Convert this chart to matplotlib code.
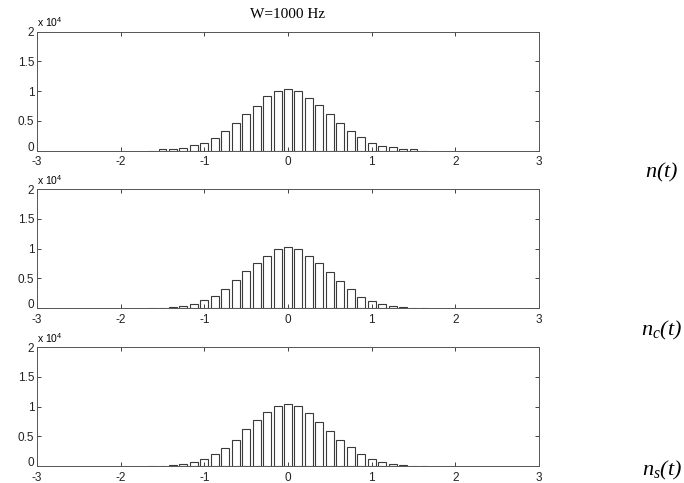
import numpy as np
import matplotlib
matplotlib.use('Agg')
import matplotlib.pyplot as plt
import matplotlib.transforms as mtransforms

plt.rcParams['mathtext.fontset'] = 'custom'
plt.rcParams['mathtext.rm'] = 'Liberation Serif:italic'
plt.rcParams['mathtext.it'] = 'Liberation Serif:italic'
plt.rcParams['mathtext.sf'] = 'Liberation Sans'
plt.rcParams['axes.unicode_minus'] = False

# histogram bin centres (W = 1000 Hz)
centres = [-1.625, -1.5, -1.375, -1.25, -1.125, -1.0, -0.875, -0.75, -0.625,
           -0.5, -0.375, -0.25, -0.125, 0.0, 0.125, 0.25, 0.375, 0.5, 0.625,
           0.75, 0.875, 1.0, 1.125, 1.25, 1.375, 1.5, 1.625]

n_counts = [0, 170, 280, 450, 845, 1295, 2030, 3210, 4620, 6140, 7490, 9120,
            10080, 10360, 10080, 8900, 7660, 6140, 4620, 3210, 2200, 1295,
            790, 510, 280, 170, 0]
nc_counts = [30, 60, 225, 395, 730, 1295, 2080, 3150, 4670, 6190, 7545, 8670,
             9970, 10300, 9850, 8780, 7490, 6020, 4500, 3150, 1910, 1240,
             730, 395, 225, 60, 50]
ns_counts = [0, 60, 225, 395, 730, 1240, 1970, 2985, 4450, 6190, 7660, 9010,
             10020, 10360, 10020, 8900, 7320, 5800, 4450, 3210, 2080, 1240,
             730, 395, 225, 60, 0]

labels = [r'$\mathrm{n(t)}$', r'$\mathrm{n_c(t)}$', r'$\mathrm{n_s(t)}$']
xticks = [-3, -2, -1, 0, 1, 2, 3]
yticks = [0, 5000, 10000, 15000, 20000]
ytick_labels = ['0', '0.5', '1', '1.5', '2']

fig = plt.figure(figsize=(6.84, 4.83), dpi=100)

W, H = 684, 483
# pixel boxes: (top, bottom)
boxes = [(31.5, 150.5), (189, 308), (347, 466)]
label_y = [172, 330, 470]

for i, counts in enumerate([n_counts, nc_counts, ns_counts]):
    top, bot = boxes[i]
    ax = fig.add_axes([37 / W, 1 - bot / H, (539 - 37) / W, (bot - top) / H])
    ax.bar(centres, counts, width=0.095, color='white', edgecolor='#3a3a3a',
           linewidth=0.8)
    ax.set_xlim(-3, 3)
    ax.set_ylim(0, 20000)
    ax.set_xticks(xticks)
    ax.set_yticks(yticks)
    ax.set_yticklabels(ytick_labels)
    ax.tick_params(direction='in', length=3, width=0.6, top=True, right=True,
                   labelsize=8.5, pad=2, colors='#222222')
    ax.tick_params(axis='x', pad=4)
    for sp in ax.spines.values():
        sp.set_color('#555555')
        sp.set_linewidth(0.7)
    for lab in ax.get_xticklabels() + ax.get_yticklabels():
        lab.set_fontfamily('Liberation Sans')
    # lift the "0" a little, as in the original
    zero = ax.yaxis.get_majorticklabels()[0]
    zero.set_transform(zero.get_transform() +
                       mtransforms.ScaledTranslation(0, 3 / 72, fig.dpi_scale_trans))
    ax.text(0.0, 1.02, r'x 10$^{\mathsf{4}}$', transform=ax.transAxes,
            fontsize=7.5, family='Liberation Sans', ha='left', va='bottom')
    fig.text(662 / W, 1 - label_y[i] / H, labels[i], fontsize=16,
             ha='center', va='center')
    if i == 0:
        ax.text(0.5, 1.09, 'W=1000 Hz', transform=ax.transAxes, fontsize=11,
                family='Liberation Serif', ha='center', va='bottom')

fig.savefig('out.png', dpi=100)
